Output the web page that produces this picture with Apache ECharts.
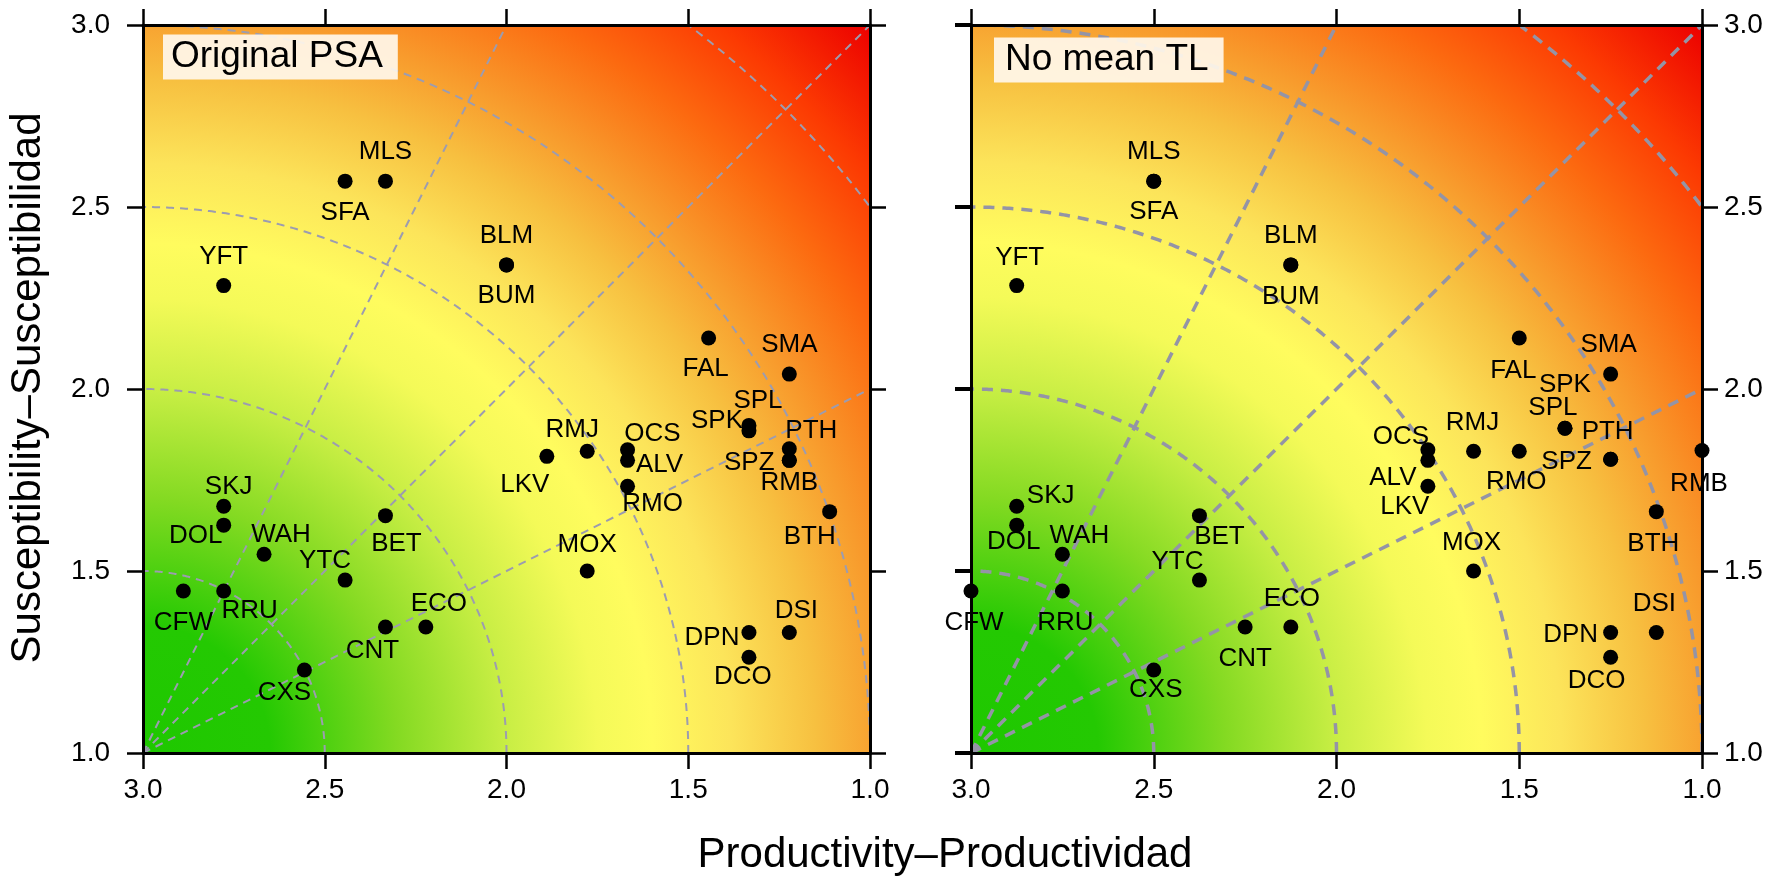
<!DOCTYPE html>
<html>
<head>
<meta charset="utf-8">
<title>PSA</title>
<script src="https://cdn.jsdelivr.net/npm/echarts@6/dist/echarts.min.js"></script>
<style>
  html, body { margin: 0; padding: 0; background: #fff; }
  #chart { width: 1777px; height: 879px; }
</style>
</head>
<body>
<div id="chart"></div>
<script>
// species codes, same order in both panels
const species = ["MLS", "SFA", "YFT", "BLM", "BUM", "FAL", "SMA", "SPK", "SPL", "PTH", "SPZ", "RMB", "RMJ", "LKV", "OCS", "ALV",
  "RMO", "SKJ", "DOL", "WAH", "BET", "YTC", "MOX", "BTH", "CFW", "RRU", "CNT", "ECO", "CXS", "DPN", "DSI", "DCO"];

// left panel: Original PSA
const prodOriginal = [2.333, 2.444, 2.778, 2.000, 2.000, 1.444, 1.222, 1.333, 1.333, 1.222, 1.222, 1.222, 1.778, 1.889, 1.667, 1.667,
  1.667, 2.778, 2.778, 2.667, 2.333, 2.444, 1.778, 1.111, 2.889, 2.778, 2.333, 2.222, 2.556, 1.333, 1.222, 1.333];
const suscOriginal = [2.571, 2.571, 2.284, 2.341, 2.341, 2.140, 2.041, 1.900, 1.885, 1.836, 1.804, 1.804, 1.829, 1.815, 1.833, 1.804,
  1.733, 1.678, 1.626, 1.546, 1.652, 1.475, 1.500, 1.663, 1.445, 1.445, 1.346, 1.346, 1.228, 1.331, 1.331, 1.263];

// right panel: No mean TL
const prodNoTL = [2.500, 2.500, 2.875, 2.125, 2.125, 1.500, 1.250, 1.375, 1.375, 1.250, 1.250, 1.000, 1.625, 1.750, 1.750, 1.750,
  1.500, 2.875, 2.875, 2.750, 2.375, 2.375, 1.625, 1.125, 3.000, 2.750, 2.250, 2.125, 2.500, 1.250, 1.125, 1.250];
const suscNoTL = [2.571, 2.571, 2.284, 2.341, 2.341, 2.140, 2.041, 1.892, 1.892, 1.807, 1.807, 1.831, 1.829, 1.733, 1.833, 1.804,
  1.829, 1.678, 1.626, 1.546, 1.652, 1.475, 1.500, 1.663, 1.445, 1.445, 1.346, 1.346, 1.228, 1.331, 1.331, 1.263];

// axis range and ticks
const axisMin = 1;
const axisMax = 3;
const tickStep = 0.5;

// reference guides around the low-risk corner (productivity 3, susceptibility 1)
const guideOrigin = [3, 1];
const arcRadii = [0.5, 1, 1.5, 2, 2.5];
const rayEnds = [[2, 3], [1, 3], [1, 2]];

// label placement (pixel offset of label centre from the dot)
const labelOffsetOriginal = {
  MLS: [0, -29], SFA: [0, 32], YFT: [0, -29], BLM: [0, -29], BUM: [0, 31], FAL: [-3, 31], SMA: [0, -29],
  SPK: [-32, -5], SPL: [9, -30], PTH: [22, -18], SPZ: [-40, 2], RMB: [0, 22], RMJ: [-15, -21], LKV: [-22, 28],
  OCS: [25, -16], ALV: [32, 4], RMO: [25, 18], SKJ: [5, -19], DOL: [-28, 11], WAH: [17, -19], BET: [11, 28],
  YTC: [-20, -19], MOX: [0, -26], BTH: [-20, 25], CFW: [0, 32], RRU: [26, 20], CNT: [-13, 24], ECO: [13, -23],
  CXS: [-20, 23], DPN: [-37, 5], DSI: [7, -22], DCO: [-6, 20]
};
const labelOffsetNoTL = {
  MLS: [0, -29], SFA: [0, 31], YFT: [3, -28], BLM: [0, -29], BUM: [0, 32], FAL: [-6, 33], SMA: [-2, -29],
  SPK: [0, -43], SPL: [-12, -20], PTH: [-3, -27], SPZ: [-44, 3], RMB: [-3, 33], RMJ: [-1, -28], LKV: [-23, 21],
  OCS: [-27, -13], ALV: [-35, 17], RMO: [-3, 31], SKJ: [34, -10], DOL: [-3, 17], WAH: [17, -18], BET: [20, 21],
  YTC: [-22, -18], MOX: [-2, -28], BTH: [-3, 32], CFW: [3, 32], RRU: [3, 32], CNT: [0, 32], ECO: [1, -28],
  CXS: [2, 20], DPN: [-40, 2], DSI: [-2, -29], DCO: [-14, 24]
};

// background colour by distance from the low-risk corner (axis units)
const riskColors = [
  [0.00, "#1ec800"], [0.35, "#24c902"], [0.70, "#84da22"], [1.00, "#c8ee44"], [1.25, "#f4fa58"],
  [1.40, "#fffc5e"], [1.62, "#fce45a"], [1.85, "#f7c040"], [2.05, "#f89a2c"], [2.30, "#fc6a10"],
  [2.55, "#fc3a02"], [2.83, "#ec0000"]
];

const FONT = "'Liberation Sans', Arial, Helvetica, sans-serif";
const fmt = (v) => Number(v).toFixed(1);

const chart = echarts.init(document.getElementById("chart"));

const renderBackground = (params, api) => {
  const lo = api.coord([api.value(0), api.value(1)]);
  const hi = api.coord([api.value(2), api.value(3)]);
  const dMax = Math.hypot(api.value(0) - api.value(2), api.value(3) - api.value(1));
  const rPx = Math.hypot(hi[0] - lo[0], hi[1] - lo[1]);
  const stops = riskColors.map(([d, c]) => ({ offset: Math.min(1, d / dMax), color: c }));
  return {
    type: "rect",
    shape: {
      x: Math.min(lo[0], hi[0]),
      y: Math.min(lo[1], hi[1]),
      width: Math.abs(hi[0] - lo[0]),
      height: Math.abs(hi[1] - lo[1])
    },
    style: { fill: new echarts.graphic.RadialGradient(lo[0], lo[1], rPx, stops, true) },
    silent: true
  };
};

const makeArcRenderer = (lineStyle) => (params, api) => {
  const r = api.value(0);
  const pts = [];
  for (let k = 0; k <= 360; k++) {
    const t = (k / 360) * Math.PI / 2;
    const x = guideOrigin[0] - r * Math.cos(t);
    const y = guideOrigin[1] + r * Math.sin(t);
    if (x < axisMin - 1e-9 || y > axisMax + 1e-9) continue;
    pts.push(api.coord([x, y]));
  }
  return { type: "polyline", shape: { points: pts }, style: { fill: null, ...lineStyle }, silent: true };
};

const makeRayRenderer = (lineStyle) => (params, api) => {
  const a = api.coord(guideOrigin);
  const b = api.coord([api.value(0), api.value(1)]);
  return {
    type: "line",
    shape: { x1: a[0], y1: a[1], x2: b[0], y2: b[1] },
    style: { fill: null, ...lineStyle },
    silent: true
  };
};

const baseAxis = {
  type: "value",
  min: axisMin,
  max: axisMax,
  interval: tickStep,
  z: 3,
  splitLine: { show: false },
  axisLine: { show: true, onZero: false, lineStyle: { color: "#000", width: 3 } },
  axisTick: { show: true, length: 16, lineStyle: { color: "#000", width: 2.5 } }
};

const tickLabel = (margin) => ({
  show: true,
  margin,
  fontSize: 28,
  color: "#000",
  fontFamily: FONT,
  formatter: fmt,
  showMinLabel: true,
  showMaxLabel: true
});

const xAxes = (gridIndex) => [
  { ...baseAxis, gridIndex, inverse: true, position: "bottom", axisLabel: tickLabel(23) },
  { ...baseAxis, gridIndex, inverse: true, position: "top", axisLabel: { show: false } }
];

const panelSeries = (axisIndex, prod, susc, offsets, guideStyle) => [
  {
    type: "custom",
    xAxisIndex: axisIndex,
    yAxisIndex: axisIndex,
    z: 1,
    silent: true,
    renderItem: renderBackground,
    data: [[axisMax, axisMin, axisMin, axisMax]]
  },
  {
    type: "custom",
    xAxisIndex: axisIndex,
    yAxisIndex: axisIndex,
    z: 2,
    clip: true,
    silent: true,
    renderItem: makeArcRenderer(guideStyle),
    data: arcRadii.map((r) => [r])
  },
  {
    type: "custom",
    xAxisIndex: axisIndex,
    yAxisIndex: axisIndex,
    z: 2,
    clip: true,
    silent: true,
    renderItem: makeRayRenderer(guideStyle),
    data: rayEnds
  },
  {
    type: "scatter",
    xAxisIndex: axisIndex,
    yAxisIndex: axisIndex,
    z: 5,
    symbol: "circle",
    symbolSize: 15,
    itemStyle: { color: "#000", opacity: 1 },
    emphasis: { disabled: true },
    label: {
      show: true,
      position: "inside",
      formatter: "{b}",
      color: "#000",
      fontSize: 26,
      fontFamily: FONT,
      align: "center",
      verticalAlign: "middle"
    },
    data: species.map((name, i) => ({
      name,
      value: [prod[i], susc[i]],
      label: { offset: offsets[name] || [0, 0] }
    }))
  }
];

const boxTitle = (text, left, top, padding) => ({
  text,
  left,
  top,
  padding,
  backgroundColor: "rgba(255, 247, 236, 0.92)",
  textStyle: { fontSize: 37, fontWeight: "normal", color: "#000", fontFamily: FONT, lineHeight: 36 }
});

chart.setOption({
  animation: false,
  title: [
    boxTitle("Original PSA", 163, 35, [4, 15, 4, 8]),
    boxTitle("No mean TL", 994, 38, [4, 15, 4, 11])
  ],
  grid: [
    { left: 143, top: 25, width: 727, height: 728 },
    { left: 971, top: 25, width: 731, height: 728 }
  ],
  xAxis: [...xAxes(0), ...xAxes(1)],
  yAxis: [
    { ...baseAxis, gridIndex: 0, position: "left", axisLabel: tickLabel(33) },
    { ...baseAxis, gridIndex: 0, position: "right", axisLabel: { show: false } },
    { ...baseAxis, gridIndex: 1, position: "left", axisLabel: { show: false },
      axisTick: { show: true, length: 16, lineStyle: { color: "#000", width: 4 } } },
    { ...baseAxis, gridIndex: 1, position: "right", axisLabel: tickLabel(22) }
  ],
  graphic: [
    {
      type: "text",
      x: 945,
      y: 855,
      silent: true,
      style: { text: "Productivity–Productividad", fontSize: 42, fontFamily: FONT, fill: "#000", align: "center", verticalAlign: "middle" }
    },
    {
      type: "text",
      x: 28,
      y: 388,
      rotation: Math.PI / 2,
      silent: true,
      style: { text: "Susceptibility–Susceptibilidad", fontSize: 42, fontFamily: FONT, fill: "#000", align: "center", verticalAlign: "middle" }
    }
  ],
  series: [
    ...panelSeries(0, prodOriginal, suscOriginal, labelOffsetOriginal,
      { stroke: "#9c9cb0", lineWidth: 2, lineDash: [8, 6] }),
    ...panelSeries(2, prodNoTL, suscNoTL, labelOffsetNoTL,
      { stroke: "#9494a6", lineWidth: 3.5, lineDash: [11, 8] })
  ]
});

window.addEventListener("resize", () => chart.resize());
</script>
</body>
</html>
